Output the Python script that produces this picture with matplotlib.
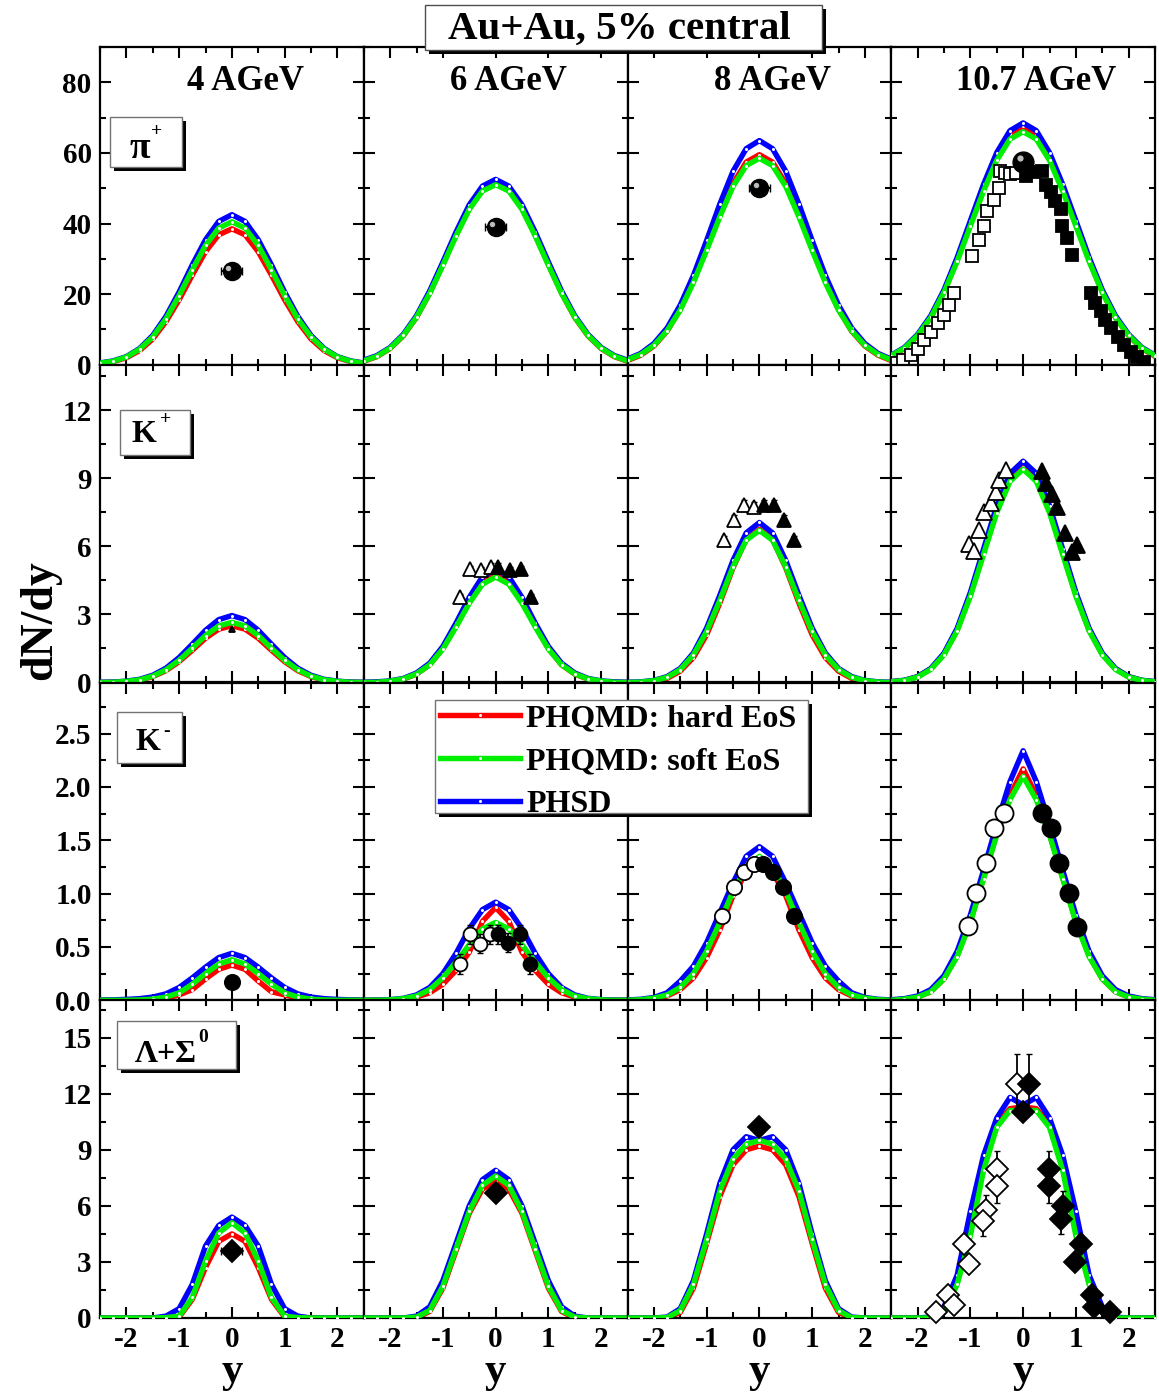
import matplotlib
matplotlib.use("Agg")
import matplotlib.pyplot as plt
from matplotlib.patches import Rectangle
from matplotlib.lines import Line2D
from matplotlib.ticker import MultipleLocator, FormatStrFormatter
from matplotlib.transforms import offset_copy

W, H = 1159, 1396

plt.rcParams['font.family'] = ['Liberation Serif', 'DejaVu Serif']
plt.rcParams['font.weight'] = 'bold'
plt.rcParams['axes.labelweight'] = 'bold'
plt.rcParams['axes.unicode_minus'] = False

# ---------------- data ----------------
rapidity = [-2.5, -2.25, -2.0, -1.75, -1.5, -1.25, -1.0, -0.75, -0.5, -0.25, 0.0,
            0.25, 0.5, 0.75, 1.0, 1.25, 1.5, 1.75, 2.0, 2.25, 2.5]
energies = ['4 AGeV', '6 AGeV', '8 AGeV', '10.7 AGeV']
model_labels = ['PHQMD: hard EoS', 'PHQMD: soft EoS', 'PHSD']

# pi+ : [4, 6, 8, 10.7 AGeV]
pi_hard = [
    [0.4, 0.9, 2.0, 4.0, 7.3, 12.2, 18.4, 25.4, 32.0, 36.8, 38.5, 36.8, 32.0, 25.4, 18.4, 12.2, 7.3, 4.0, 2.0, 0.9, 0.4],
    [1.0, 2.3, 4.6, 8.2, 13.4, 20.3, 28.4, 36.8, 44.4, 49.6, 51.5, 49.6, 44.4, 36.8, 28.4, 20.3, 13.4, 8.2, 4.6, 2.3, 1.0],
    [1.2, 2.7, 5.3, 9.5, 15.7, 23.7, 32.9, 42.7, 51.3, 57.4, 59.5, 57.4, 51.3, 42.7, 32.9, 23.7, 15.7, 9.5, 5.3, 2.7, 1.2],
    [2.4, 4.6, 8.2, 13.4, 20.6, 29.7, 39.9, 50.0, 59.1, 65.3, 67.5, 65.3, 59.1, 50.0, 39.9, 29.7, 20.6, 13.4, 8.2, 4.6, 2.4],
]
pi_soft = [
    [0.45, 1.0, 2.2, 4.4, 7.9, 13.0, 19.6, 26.9, 33.8, 38.7, 40.5, 38.7, 33.8, 26.9, 19.6, 13.0, 7.9, 4.4, 2.2, 1.0, 0.45],
    [1.1, 2.4, 4.7, 8.3, 13.5, 20.2, 28.2, 36.5, 44.0, 49.2, 51.0, 49.2, 44.0, 36.5, 28.2, 20.2, 13.5, 8.3, 4.7, 2.4, 1.1],
    [1.4, 2.9, 5.5, 9.6, 15.5, 23.3, 32.4, 41.9, 50.5, 56.4, 58.5, 56.4, 50.5, 41.9, 32.4, 23.3, 15.5, 9.6, 5.5, 2.9, 1.4],
    [2.6, 4.7, 8.3, 13.4, 20.5, 29.3, 39.3, 49.2, 57.9, 63.9, 66.0, 63.9, 57.9, 49.2, 39.3, 29.3, 20.5, 13.4, 8.3, 4.7, 2.6],
]
pi_phsd = [
    [0.5, 1.1, 2.3, 4.6, 8.3, 13.7, 20.6, 28.3, 35.4, 40.6, 42.5, 40.6, 35.4, 28.3, 20.6, 13.7, 8.3, 4.6, 2.3, 1.1, 0.5],
    [1.3, 2.6, 4.9, 8.6, 13.9, 20.9, 29.1, 37.6, 45.3, 50.6, 52.5, 50.6, 45.3, 37.6, 29.1, 20.9, 13.9, 8.6, 4.9, 2.6, 1.3],
    [1.6, 3.2, 6.0, 10.4, 16.9, 25.3, 35.2, 45.5, 54.8, 61.2, 63.5, 61.2, 54.8, 45.5, 35.2, 25.3, 16.9, 10.4, 6.0, 3.2, 1.6],
    [2.7, 4.9, 8.6, 13.9, 21.2, 30.4, 40.8, 51.1, 60.1, 66.3, 68.5, 66.3, 60.1, 51.1, 40.8, 30.4, 21.2, 13.9, 8.6, 4.9, 2.7],
]

# K+
kp_hard = [
    [0.0, 0.01, 0.04, 0.11, 0.26, 0.52, 0.92, 1.42, 1.95, 2.35, 2.50, 2.35, 1.95, 1.42, 0.92, 0.52, 0.26, 0.11, 0.04, 0.01, 0.0],
    [0.0, 0.01, 0.05, 0.15, 0.37, 0.78, 1.50, 2.50, 3.62, 4.50, 4.85, 4.50, 3.62, 2.50, 1.50, 0.78, 0.37, 0.15, 0.05, 0.01, 0.0],
    [0.0, 0.0, 0.05, 0.18, 0.50, 1.10, 2.10, 3.50, 5.05, 6.30, 6.75, 6.30, 5.05, 3.50, 2.10, 1.10, 0.50, 0.18, 0.05, 0.0, 0.0],
    [0.03, 0.09, 0.25, 0.60, 1.25, 2.32, 3.87, 5.73, 7.59, 8.98, 9.50, 8.98, 7.59, 5.73, 3.87, 2.32, 1.25, 0.60, 0.25, 0.09, 0.03],
]
kp_soft = [
    [0.0, 0.01, 0.05, 0.12, 0.28, 0.56, 0.98, 1.51, 2.07, 2.49, 2.65, 2.49, 2.07, 1.51, 0.98, 0.56, 0.28, 0.12, 0.05, 0.01, 0.0],
    [0.0, 0.01, 0.06, 0.16, 0.38, 0.78, 1.48, 2.45, 3.49, 4.33, 4.65, 4.33, 3.49, 2.45, 1.48, 0.78, 0.38, 0.16, 0.06, 0.01, 0.0],
    [0.0, 0.02, 0.08, 0.23, 0.57, 1.22, 2.25, 3.62, 5.10, 6.27, 6.70, 6.27, 5.10, 3.62, 2.25, 1.22, 0.57, 0.23, 0.08, 0.02, 0.0],
    [0.03, 0.09, 0.24, 0.58, 1.22, 2.28, 3.80, 5.64, 7.48, 8.86, 9.40, 8.86, 7.48, 5.64, 3.80, 2.28, 1.22, 0.58, 0.24, 0.09, 0.03],
]
kp_phsd = [
    [0.01, 0.02, 0.06, 0.14, 0.32, 0.63, 1.10, 1.69, 2.30, 2.77, 2.95, 2.77, 2.30, 1.69, 1.10, 0.63, 0.32, 0.14, 0.06, 0.02, 0.01],
    [0.01, 0.03, 0.07, 0.18, 0.42, 0.85, 1.59, 2.62, 3.75, 4.66, 5.00, 4.66, 3.75, 2.62, 1.59, 0.85, 0.42, 0.18, 0.07, 0.03, 0.01],
    [0.01, 0.03, 0.09, 0.26, 0.62, 1.30, 2.40, 3.84, 5.38, 6.59, 7.05, 6.59, 5.38, 3.84, 2.40, 1.30, 0.62, 0.26, 0.09, 0.03, 0.01],
    [0.04, 0.10, 0.26, 0.62, 1.29, 2.39, 3.97, 5.88, 7.79, 9.21, 9.75, 9.21, 7.79, 5.88, 3.97, 2.39, 1.29, 0.62, 0.26, 0.10, 0.04],
]

# K-
km_hard = [
    [0, 0, 0, 0, 0.005, 0.02, 0.05, 0.10, 0.20, 0.29, 0.33, 0.29, 0.18, 0.08, 0.05, 0.02, 0.005, 0, 0, 0, 0],
    [0, 0, 0, 0.01, 0.03, 0.07, 0.15, 0.28, 0.45, 0.74, 0.87, 0.74, 0.45, 0.28, 0.15, 0.07, 0.03, 0.01, 0, 0, 0],
    [0, 0, 0.01, 0.04, 0.10, 0.21, 0.40, 0.66, 0.98, 1.20, 1.28, 1.20, 0.98, 0.66, 0.40, 0.21, 0.10, 0.04, 0.01, 0, 0],
    [0, 0.01, 0.03, 0.08, 0.20, 0.42, 0.74, 1.15, 1.56, 1.92, 2.17, 1.92, 1.56, 1.15, 0.74, 0.42, 0.20, 0.08, 0.03, 0.01, 0],
]
km_soft = [
    [0, 0, 0, 0.003, 0.01, 0.03, 0.07, 0.15, 0.25, 0.34, 0.38, 0.34, 0.25, 0.15, 0.07, 0.03, 0.01, 0.003, 0, 0, 0],
    [0, 0, 0.004, 0.015, 0.04, 0.10, 0.21, 0.36, 0.52, 0.67, 0.73, 0.67, 0.52, 0.36, 0.21, 0.10, 0.04, 0.015, 0.004, 0, 0],
    [0, 0.005, 0.02, 0.05, 0.12, 0.25, 0.46, 0.73, 1.02, 1.25, 1.35, 1.25, 1.02, 0.73, 0.46, 0.25, 0.12, 0.05, 0.02, 0.005, 0],
    [0, 0.01, 0.03, 0.08, 0.20, 0.41, 0.73, 1.14, 1.55, 1.88, 2.10, 1.88, 1.55, 1.14, 0.73, 0.41, 0.20, 0.08, 0.03, 0.01, 0],
]
km_phsd = [
    [0.002, 0.004, 0.008, 0.015, 0.03, 0.06, 0.12, 0.21, 0.31, 0.40, 0.44, 0.40, 0.31, 0.21, 0.12, 0.06, 0.03, 0.015, 0.008, 0.004, 0.002],
    [0, 0.002, 0.006, 0.018, 0.05, 0.12, 0.25, 0.44, 0.67, 0.85, 0.92, 0.85, 0.67, 0.44, 0.25, 0.12, 0.05, 0.018, 0.006, 0.002, 0],
    [0.003, 0.009, 0.026, 0.07, 0.18, 0.32, 0.54, 0.82, 1.10, 1.35, 1.44, 1.35, 1.10, 0.82, 0.54, 0.32, 0.18, 0.07, 0.026, 0.009, 0.003],
    [0.005, 0.015, 0.04, 0.10, 0.23, 0.46, 0.80, 1.22, 1.65, 2.05, 2.34, 2.05, 1.65, 1.22, 0.80, 0.46, 0.23, 0.10, 0.04, 0.015, 0.005],
]

# Lambda + Sigma0
lam_hard = [
    [0, 0, 0, 0, 0, 0, 0.05, 1.0, 2.7, 4.1, 4.5, 4.1, 2.7, 1.0, 0.05, 0, 0, 0, 0, 0, 0],
    [0, 0, 0, 0, 0, 0.35, 1.6, 3.6, 5.6, 6.9, 7.3, 6.9, 5.6, 3.6, 1.6, 0.35, 0, 0, 0, 0, 0],
    [0, 0, 0, 0, 0.3, 1.6, 4.0, 6.5, 8.2, 9.0, 9.2, 9.0, 8.2, 6.5, 4.0, 1.6, 0.3, 0, 0, 0, 0],
    [0, 0, 0, 0, 0.3, 1.9, 4.6, 8.2, 10.4, 11.2, 11.3, 11.2, 10.4, 8.2, 4.6, 1.9, 0.3, 0, 0, 0, 0],
]
lam_soft = [
    [0, 0, 0, 0, 0, 0.02, 0.1, 1.1, 3.05, 4.55, 5.1, 4.55, 3.05, 1.1, 0.1, 0.02, 0, 0, 0, 0, 0],
    [0, 0, 0, 0, 0.05, 0.4, 1.7, 3.7, 5.7, 7.1, 7.6, 7.1, 5.7, 3.7, 1.7, 0.4, 0.05, 0, 0, 0, 0],
    [0, 0, 0, 0.02, 0.4, 1.8, 4.2, 6.8, 8.5, 9.3, 9.5, 9.3, 8.5, 6.8, 4.2, 1.8, 0.4, 0.02, 0, 0, 0],
    [0, 0, 0, 0, 0.3, 1.8, 4.4, 7.9, 10.2, 11.1, 11.1, 11.1, 10.2, 7.9, 4.4, 1.8, 0.3, 0, 0, 0, 0],
]
lam_phsd = [
    [0, 0, 0, 0, 0, 0.1, 0.5, 1.8, 3.85, 4.95, 5.4, 4.95, 3.85, 1.8, 0.5, 0.1, 0, 0, 0, 0, 0],
    [0, 0, 0, 0, 0.1, 0.6, 2.0, 4.0, 6.0, 7.4, 7.9, 7.4, 6.0, 4.0, 2.0, 0.6, 0.1, 0, 0, 0, 0],
    [0, 0, 0, 0.05, 0.5, 2.0, 4.5, 7.2, 9.0, 9.7, 9.5, 9.7, 9.0, 7.2, 4.5, 2.0, 0.5, 0.05, 0, 0, 0],
    [0, 0, 0, 0.05, 0.6, 2.3, 5.7, 8.7, 10.7, 11.8, 11.4, 11.8, 10.7, 8.7, 5.7, 2.3, 0.6, 0.05, 0, 0, 0],
]

# experimental points
pi_mid_y = [26.5, 39.0, 50.0, 57.5]
pi_mid_xerr = [0.2, 0.2, 0.2, 0.0]
pi_open_x = [-2.4, -2.28, -2.13, -2.0, -1.87, -1.75, -1.62, -1.5, -1.4, -1.31,
             -0.96, -0.84, -0.74, -0.68, -0.55, -0.46, -0.43, -0.34, -0.24, -0.14]
pi_open_y = [0.5, 1.3, 2.8, 4.6, 7.0, 9.4, 11.7, 14.2, 17.0, 20.3,
             30.7, 35.4, 39.2, 43.5, 46.8, 50.1, 54.8, 54.3, 54.0, 54.3]
pi_full_x = [0.05, 0.2, 0.36, 0.43, 0.52, 0.61, 0.71, 0.74, 0.84, 0.93,
             1.28, 1.37, 1.47, 1.56, 1.66, 1.79, 1.91, 2.04, 2.16, 2.29]
pi_full_y = [53.5, 54.5, 54.8, 51.0, 49.0, 46.3, 44.0, 39.2, 35.9, 31.2,
             20.3, 17.4, 15.1, 12.8, 10.3, 8.0, 5.6, 3.7, 2.3, 0.9]

kp4_y = 2.35
kp6_open_x = [-0.68, -0.49, -0.27, -0.08]
kp6_open_y = [3.76, 5.0, 4.95, 5.1]
kp6_full_x = [0.05, 0.27, 0.49, 0.68]
kp6_full_y = [5.1, 4.95, 5.0, 3.76]
kp8_open_x = [-0.67, -0.48, -0.29, -0.10]
kp8_open_y = [6.27, 7.16, 7.82, 7.75]
kp8_full_x = [0.09, 0.28, 0.47, 0.66]
kp8_full_y = [7.82, 7.82, 7.16, 6.27]
kp10_open_x = [-1.02, -0.93, -0.84, -0.74, -0.61, -0.52, -0.46, -0.33]
kp10_open_y = [6.1, 5.8, 6.7, 7.5, 7.9, 8.4, 8.93, 9.37]
kp10_full_x = [0.36, 0.43, 0.55, 0.65, 0.80, 0.93, 1.02]
kp10_full_y = [9.3, 8.8, 8.3, 7.75, 6.6, 5.76, 6.05]

km4_y = 0.17
km6_open_x = [-0.68, -0.49, -0.30, -0.11]
km6_open_y = [0.34, 0.62, 0.53, 0.62]
km6_full_x = [0.05, 0.24, 0.46, 0.65]
km6_full_y = [0.62, 0.54, 0.62, 0.34]
km6_err = [0.09, 0.09, 0.09, 0.09]
km8_open_x = [-0.70, -0.48, -0.29, -0.10]
km8_open_y = [0.79, 1.06, 1.20, 1.28]
km8_full_x = [0.06, 0.25, 0.44, 0.66]
km8_full_y = [1.28, 1.20, 1.06, 0.79]
km10_open_x = [-1.05, -0.90, -0.71, -0.55, -0.36]
km10_open_y = [0.70, 1.01, 1.29, 1.62, 1.76]
km10_full_x = [0.36, 0.52, 0.68, 0.87, 1.02]
km10_full_y = [1.76, 1.62, 1.29, 1.01, 0.69]

lam_mid_y = [3.6, 6.7, 10.2]
lam_mid_xerr = [0.2, 0.0, 0.0]
lam10_open_x = [-0.11, -0.49, -0.49, -0.71, -0.77, -1.12, -1.02, -1.43, -1.31, -1.65]
lam10_open_y = [12.5, 7.96, 7.07, 5.8, 5.2, 3.97, 2.9, 1.22, 0.69, 0.34]
lam10_open_err = [1.6, 1.0, 0.9, 0.8, 0.8, 0.3, 0.3, 0.2, 0.2, 0.1]
lam10_full_x = [0.11, 0.49, 0.49, 0.75, 0.72, 1.09, 0.99, 1.31, 1.34, 1.65, 0.0]
lam10_full_y = [12.5, 7.96, 7.07, 6.0, 5.3, 3.97, 3.0, 1.22, 0.6, 0.34, 11.0]
lam10_full_err = [1.6, 1.0, 0.9, 0.8, 0.8, 0.3, 0.3, 0.2, 0.2, 0.1, 0.3]

hard_all = [pi_hard, kp_hard, km_hard, lam_hard]
soft_all = [pi_soft, kp_soft, km_soft, lam_soft]
phsd_all = [pi_phsd, kp_phsd, km_phsd, lam_phsd]

ylims = [90, 14, 2.98, 17]
yticks = [[0, 20, 40, 60, 80], [0, 3, 6, 9, 12],
          [0.0, 0.5, 1.0, 1.5, 2.0, 2.5], [0, 3, 6, 9, 12, 15]]
yminor = [10, 1.5, 0.25, 1.5]

RED, GREEN, BLUE = '#ff0000', '#00ee00', '#0000ff'
LW = 3.9

# ---------------- figure ----------------
fig, axes = plt.subplots(4, 4, figsize=(W / 100, H / 100), dpi=100)
fig.subplots_adjust(left=100 / W, right=1155 / W, top=1 - 47 / H,
                    bottom=1 - 1318 / H, hspace=0, wspace=0)


def curve(ax, y, col, z):
    ax.plot(rapidity, y, color=col, lw=LW, zorder=z, marker='o', ms=2.2,
            mfc='white', mec='white', mew=0, solid_joinstyle='round')


def sphere(ax, x, y, xerr, ms=14):
    if xerr > 0:
        ax.errorbar([x], [y], xerr=[xerr], fmt='none', ecolor='black',
                    elinewidth=1.5, capsize=3, zorder=6)
    ax.plot([x], [y], 'o', color='black', ms=ms, zorder=7)
    tr = offset_copy(ax.transData, fig=fig, x=-2.5, y=2.5, units='points')
    ax.plot([x], [y], 'o', color='#bbbbbb', ms=ms * 0.3, mew=0,
            transform=tr, zorder=8)


def pts(ax, x, y, marker, filled, ms, yerr=None):
    if yerr is not None:
        ax.errorbar(x, y, yerr=yerr, fmt='none', ecolor='black',
                    elinewidth=1.3, capsize=2, zorder=5)
    ax.plot(x, y, marker, ls='none', ms=ms, mec='black', mew=1.3,
            mfc='black' if filled else 'white', zorder=6, clip_on=False)


for r in range(4):
    for c in range(4):
        ax = axes[r][c]
        curve(ax, hard_all[r][c], RED, 2)
        curve(ax, phsd_all[r][c], BLUE, 3)
        curve(ax, soft_all[r][c], GREEN, 4)
        ax.set_xlim(-2.5, 2.5)
        ax.set_ylim(0, ylims[r])
        ax.set_xticks([-2, -1, 0, 1, 2])
        ax.xaxis.set_minor_locator(MultipleLocator(0.5))
        ax.set_yticks(yticks[r])
        ax.yaxis.set_minor_locator(MultipleLocator(yminor[r]))
        ax.tick_params(which='both', direction='in', top=True, right=True,
                       width=1.5, labelsize=21, pad=6)
        ax.tick_params(which='major', length=8)
        ax.tick_params(which='minor', length=4)
        for s in ax.spines.values():
            s.set_linewidth(1.6)
        if c > 0:
            ax.tick_params(labelleft=False)
        if r < 3:
            ax.tick_params(labelbottom=False)
        else:
            ax.set_xlabel('y', fontsize=31, fontweight='bold', labelpad=0)
        if r == 2:
            ax.yaxis.set_major_formatter(FormatStrFormatter('%.1f'))
        if r == 0:
            ax.text(0.55, 0.89, energies[c], transform=ax.transAxes,
                    ha='center', va='center', fontsize=25, fontweight='bold')

# pi+
for c in range(4):
    if c == 3:
        pts(axes[0][3], pi_open_x, pi_open_y, 's', False, 9)
        pts(axes[0][3], pi_full_x, pi_full_y, 's', True, 9)
    sphere(axes[0][c], 0.0, pi_mid_y[c], pi_mid_xerr[c], ms=13 if c < 3 else 15)

# K+
pts(axes[1][0], [0.0], [kp4_y], '^', True, 5)
pts(axes[1][1], kp6_open_x, kp6_open_y, '^', False, 10, yerr=0.15)
pts(axes[1][1], kp6_full_x, kp6_full_y, '^', True, 10, yerr=0.15)
pts(axes[1][2], kp8_open_x, kp8_open_y, '^', False, 10, yerr=0.2)
pts(axes[1][2], kp8_full_x, kp8_full_y, '^', True, 10, yerr=0.2)
pts(axes[1][3], kp10_open_x, kp10_open_y, '^', False, 12)
pts(axes[1][3], kp10_full_x, kp10_full_y, '^', True, 12)

# K-
pts(axes[2][0], [0.0], [km4_y], 'o', True, 11)
pts(axes[2][1], km6_open_x, km6_open_y, 'o', False, 10, yerr=km6_err)
pts(axes[2][1], km6_full_x, km6_full_y, 'o', True, 10, yerr=km6_err)
pts(axes[2][2], km8_open_x, km8_open_y, 'o', False, 11)
pts(axes[2][2], km8_full_x, km8_full_y, 'o', True, 11)
pts(axes[2][3], km10_open_x, km10_open_y, 'o', False, 13, yerr=0.05)
pts(axes[2][3], km10_full_x, km10_full_y, 'o', True, 13)

# Lambda + Sigma0
for c in range(3):
    ax = axes[3][c]
    if lam_mid_xerr[c] > 0:
        ax.errorbar([0.0], [lam_mid_y[c]], xerr=[lam_mid_xerr[c]], fmt='none',
                    ecolor='black', elinewidth=1.5, capsize=3, zorder=5)
    pts(ax, [0.0], [lam_mid_y[c]], 'D', True, 11)
pts(axes[3][3], lam10_open_x, lam10_open_y, 'D', False, 11, yerr=lam10_open_err)
pts(axes[3][3], lam10_full_x, lam10_full_y, 'D', True, 11, yerr=lam10_full_err)


# ---------------- boxes, labels ----------------
def fx(x):
    return x / W


def fy(y):
    return 1 - y / H


def shadow_box(x0, y0, x1, y1, sh=4, ec='0.45'):
    fig.add_artist(Rectangle((fx(x0 + sh), fy(y1 + sh)), (x1 - x0) / W,
                             (y1 - y0) / H, transform=fig.transFigure,
                             fc='black', ec='none', zorder=20))
    fig.add_artist(Rectangle((fx(x0), fy(y1)), (x1 - x0) / W, (y1 - y0) / H,
                             transform=fig.transFigure, fc='white', ec=ec,
                             lw=1.0, zorder=21))


# title
shadow_box(425, 5, 822, 50, sh=4, ec='0.3')
fig.text(fx(619), fy(29), 'Au+Au, 5% central', ha='center', va='center',
         fontsize=29.5, fontweight='bold', zorder=22)

# particle labels: main text, superscript
label_boxes = [(110, 117, 182, 167), (120, 410, 190, 455),
               (117, 712, 182, 763), (117, 1021, 236, 1069)]
label_main = ['π', 'K', 'K', 'Λ+Σ']
label_sup = ['+', '+', '-', '0']
label_main_fs = [27, 23, 23, 23]
label_main_xy = [(140, 148), (144, 435), (148, 743), (166, 1055)]
label_sup_xy = [(157, 131), (166, 419), (167, 731), (203, 1038)]
for b, m, s, f, mxy, sxy in zip(label_boxes, label_main, label_sup,
                                label_main_fs, label_main_xy, label_sup_xy):
    shadow_box(*b)
    fig.text(fx(mxy[0]), fy(mxy[1]), m, ha='center', va='center',
             fontsize=f, fontweight='bold', zorder=22)
    fig.text(fx(sxy[0]), fy(sxy[1]), s, ha='center', va='center',
             fontsize=14, fontweight='bold', zorder=22)

# legend
shadow_box(435, 700, 808, 813, sh=4)
handles = [Line2D([], [], color=col, lw=LW, marker='o', ms=2.2, mfc='white',
                  mec='white', mew=0) for col in (RED, GREEN, BLUE)]
leg = fig.legend(handles, model_labels, loc='upper left',
                 bbox_to_anchor=(fx(440), fy(704)), frameon=False,
                 handlelength=2.5, handletextpad=0.2, labelspacing=0.42,
                 borderaxespad=0, borderpad=0,
                 prop={'size': 23, 'weight': 'bold'})
leg.set_zorder(25)

fig.text(fx(40), fy(620), 'dN/dy', rotation=90, ha='center', va='center',
         fontsize=33, fontweight='bold')

fig.savefig('out.png', dpi=100)
